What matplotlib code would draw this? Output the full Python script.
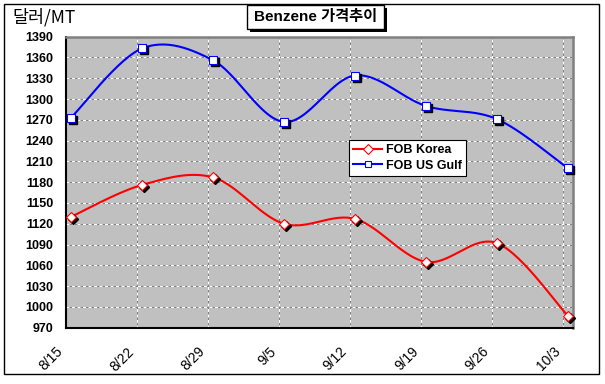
import numpy as np
import matplotlib
matplotlib.use("Agg")
import matplotlib.pyplot as plt
from matplotlib.patches import Rectangle
from matplotlib.lines import Line2D
from matplotlib.transforms import ScaledTranslation

dates = ["8/15", "8/22", "8/29", "9/5", "9/12", "9/19", "9/26", "10/3"]
fob_korea = [1130, 1176, 1187, 1120, 1127, 1065, 1092, 987]
fob_usgulf = [1273, 1373, 1356, 1267, 1334, 1290, 1271, 1200]
yticks = list(range(970, 1391, 30))

DPI = 100
fig = plt.figure(figsize=(6.05, 3.84), dpi=DPI)
W, H = 605, 384

def fx(px):
    return px / W

def fy(py):
    return 1 - py / H

# outer border
fig.patches.append(Rectangle((fx(4), fy(374)), fx(595), 370 / H, transform=fig.transFigure,
                             fill=False, edgecolor="black", linewidth=1.0, zorder=0))

ax = fig.add_axes([fx(66), fy(327.7), fx(572.7 - 66), (327.7 - 36.7) / H])
ax.set_facecolor("#C0C0C0")

x = np.arange(len(dates))
off = 0.07
ax.set_xlim(-off, len(dates) - 1 + 0.066)
ax.set_ylim(970, 1390)


def smooth(xs, ys, n=30):
    P = np.column_stack([xs, ys]).astype(float)
    out = [P[0]]
    m = len(P)
    for i in range(m - 1):
        p0 = P[i - 1] if i > 0 else P[i]
        p1 = P[i]
        p2 = P[i + 1]
        p3 = P[i + 2] if i + 2 < m else P[i + 1]
        c1 = p1 + (p2 - p0) / 6
        c2 = p2 - (p3 - p1) / 6
        t = np.linspace(0, 1, n)[1:, None]
        seg = ((1 - t) ** 3) * p1 + 3 * ((1 - t) ** 2) * t * c1 + 3 * (1 - t) * t ** 2 * c2 + t ** 3 * p2
        out.extend(seg)
    out = np.array(out)
    return out[:, 0], out[:, 1]

# grid
for gy in yticks[1:-1]:
    ax.axhline(gy, color="#808080", lw=0.72, zorder=1)
    ax.axhline(gy, color="white", lw=0.72, dashes=(3, 2.5), zorder=1.1)
for gx in x[1:] - off:
    ax.axvline(gx, color="#808080", lw=0.72, zorder=1)
    ax.axvline(gx, color="white", lw=0.72, dashes=(3, 2.5), zorder=1.1)

sx, sy = smooth(x, fob_korea)
ax.plot(sx, sy, color="#FF0000", lw=1.5, zorder=3)
sx, sy = smooth(x, fob_usgulf)
ax.plot(sx, sy, color="#0000FF", lw=1.5, zorder=3)

shadow = ax.transData + ScaledTranslation(0.02, -0.02, fig.dpi_scale_trans)
ax.plot(x, fob_korea, linestyle="none", marker="D", ms=5.5, mfc="black", mec="black",
        transform=shadow, zorder=4, clip_on=False)
ax.plot(x, fob_usgulf, linestyle="none", marker="s", ms=5.5, mfc="black", mec="black",
        transform=shadow, zorder=4, clip_on=False)
ax.plot(x, fob_korea, linestyle="none", marker="D", ms=5.5, mfc="white", mec="#FF0000",
        mew=0.8, zorder=5, clip_on=False)
ax.plot(x, fob_usgulf, linestyle="none", marker="s", ms=5.5, mfc="white", mec="#0000FF",
        mew=0.8, zorder=5, clip_on=False)

# spines
ax.spines["left"].set_color("black")
ax.spines["bottom"].set_color("black")
ax.spines["left"].set_linewidth(1.5)
ax.spines["bottom"].set_linewidth(1.5)
ax.spines["top"].set_color("#808080")
ax.spines["right"].set_color("#808080")
ax.spines["top"].set_linewidth(1.8)
ax.spines["right"].set_linewidth(1.8)

ax.set_yticks(yticks)
ax.set_yticklabels([str(v) for v in yticks], fontfamily="Liberation Sans", fontweight="bold", fontsize=9)
ax.tick_params(axis="y", length=0, pad=9)
ax.set_xticks(x - off)
ax.set_xticklabels(dates, rotation=45, ha="right", va="top", fontfamily="Liberation Sans", fontsize=10)
ax.tick_params(axis="x", length=0, pad=12)

# legend
handles = [
    Line2D([], [], color="#FF0000", lw=1.5, marker="D", ms=5, mfc="white", mec="#FF0000", mew=0.8),
    Line2D([], [], color="#0000FF", lw=1.5, marker="s", ms=5, mfc="white", mec="#0000FF", mew=0.8),
]
leg = ax.legend(handles, ["FOB Korea", "FOB US Gulf"], loc="upper left",
                bbox_to_anchor=(0.5585, 0.645), frameon=True, fancybox=False,
                edgecolor="black", framealpha=1, borderpad=0.35, handlelength=2.3,
                handletextpad=0.3, labelspacing=0.25, borderaxespad=0,
                prop={"family": "Liberation Sans", "weight": "bold", "size": 9})
leg.get_frame().set_linewidth(0.8)
leg.set_zorder(10)

# y-axis unit label
fig.text(fx(12), fy(17), "달러/MT", fontsize=12.5, family=["Noto Sans CJK KR", "DejaVu Sans"],
         ha="left", va="center")

# title with box and shadow
fig.patches.append(Rectangle((fx(250), fy(32)), fx(137), 24 / H, transform=fig.transFigure,
                             facecolor="black", edgecolor="black", lw=0, zorder=1))
fig.patches.append(Rectangle((fx(247), fy(29)), fx(137), 24 / H, transform=fig.transFigure,
                             facecolor="white", edgecolor="black", lw=1.0, zorder=2))
fig.text(fx(315.5), fy(17.5), "Benzene 가격추이", fontsize=11, fontweight="bold",
         family=["Liberation Sans", "Noto Sans CJK KR"], ha="center", va="center", zorder=3)

fig.savefig("out.png", dpi=DPI, facecolor="white")
